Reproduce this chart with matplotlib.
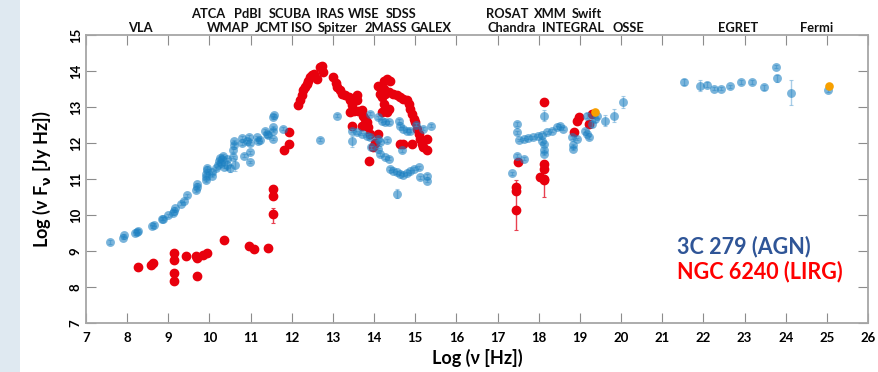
import matplotlib
matplotlib.use("Agg")
import matplotlib.pyplot as plt
from matplotlib.patches import Rectangle
import numpy as np

plt.rcParams['font.family'] = ['Lato', 'DejaVu Sans']
plt.rcParams['mathtext.default'] = 'bf'

# ---------------- data: 3C 279 (AGN), blue ----------------
agn_x = [7.58, 7.90, 7.93, 8.19, 8.23, 8.27, 8.60, 8.65, 8.84, 8.88, 9.00, 9.12, 9.14, 9.16,
         9.32, 9.37, 9.45, 9.67, 9.69, 9.69, 9.92, 9.92, 9.92, 9.94, 9.94, 10.05, 10.05,
         10.17, 10.20, 10.22, 10.25, 10.28, 10.30, 10.33, 10.35, 10.42, 10.42, 10.50,
         10.58, 10.58, 10.60, 10.60, 10.62, 10.78, 10.80, 10.90, 10.95, 10.98, 10.85, 10.98,
         10.98, 11.15, 11.19, 11.22, 11.35, 11.39, 11.42, 11.55, 11.55, 11.55, 11.57, 11.55,
         11.79, 12.69, 13.10,
         13.46, 13.58, 13.70, 13.82, 13.90, 13.47, 13.90, 14.10, 14.18, 14.27, 14.35, 14.10,
         14.15, 14.31, 13.92, 14.10, 14.15, 14.27, 14.35, 14.60, 14.63, 14.71, 14.80, 14.88,
         14.39, 14.47, 14.55, 14.63, 14.71, 14.80, 14.88, 14.96, 14.55, 14.67, 15.01, 15.18,
         15.38, 15.09, 15.12, 15.28, 15.28,
         17.35, 17.47, 17.47, 17.51, 17.63, 17.75, 17.87, 17.99, 18.08, 18.20, 18.32, 18.44,
         18.52, 18.60, 17.48, 17.63, 18.08, 18.12, 18.12, 18.12, 18.12, 18.80, 18.84, 18.84,
         18.93, 19.13, 19.17, 19.21, 19.17, 19.29, 19.37, 19.41, 19.61, 19.82, 20.04,
         21.54, 21.92, 22.10, 22.26, 22.43, 22.65, 22.92, 23.18, 23.48, 23.77, 23.80, 24.13,
         25.03]
agn_y = [9.25, 9.38, 9.44, 9.50, 9.54, 9.57, 9.70, 9.74, 9.90, 9.90, 10.00, 10.05, 10.12, 10.20,
         10.32, 10.40, 10.55, 10.70, 10.78, 10.87, 10.97, 11.05, 11.15, 11.25, 11.32, 11.10, 11.20,
         11.30, 11.40, 11.50, 11.60, 11.45, 11.55, 11.65, 11.35, 11.55, 11.40, 11.30,
         11.62, 11.80, 11.95, 12.05, 11.40, 12.00, 12.15, 12.05, 12.18, 12.00, 11.66, 11.48,
         11.75, 12.17, 12.05, 12.10, 12.35, 12.26, 12.22, 12.35, 12.12, 12.72, 12.78, 12.45,
         12.40, 12.10, 12.77,
         12.35, 12.30, 12.26, 12.21, 12.17, 12.06, 12.82, 12.72, 12.63, 12.58, 12.58, 12.12,
         12.03, 12.08, 11.89, 11.84, 11.70, 11.61, 11.57, 12.63, 12.49, 12.40, 12.35, 12.35,
         11.29, 11.24, 11.20, 11.15, 11.13, 11.17, 11.22, 11.29, 10.60, 11.80, 12.52, 12.40,
         12.49, 11.33, 11.06, 11.10, 10.96,
         11.17, 12.54, 12.30, 12.09, 12.12, 12.15, 12.17, 12.21, 12.24, 12.30, 12.35, 12.44,
         12.49, 12.40, 11.66, 11.57, 12.07, 11.98, 11.80, 11.71, 12.77, 12.17, 11.94, 11.85,
         12.12, 12.35, 12.26, 12.17, 12.77, 12.54, 12.68, 12.77, 12.63, 12.77, 13.14,
         13.70, 13.60, 13.63, 13.52, 13.52, 13.58, 13.70, 13.70, 13.55, 14.13, 13.80, 13.40,
         13.47]
agn_err = [0.06, 0.04, 0.04, 0.04, 0.04, 0.04, 0.04, 0.04, 0.04, 0.04, 0.04, 0.04, 0.04, 0.04,
           0.04, 0.04, 0.04, 0.04, 0.04, 0.04, 0.04, 0.04, 0.04, 0.04, 0.04, 0.04, 0.04,
           0.04, 0.04, 0.04, 0.04, 0.04, 0.04, 0.04, 0.04, 0.04, 0.14, 0.10,
           0.04, 0.04, 0.04, 0.04, 0.16, 0.04, 0.04, 0.04, 0.04, 0.04, 0.04, 0.04,
           0.04, 0.04, 0.04, 0.04, 0.04, 0.04, 0.04, 0.04, 0.04, 0.04, 0.04, 0.04,
           0.04, 0.04, 0.04,
           0.04, 0.04, 0.04, 0.04, 0.04, 0.15, 0.04, 0.04, 0.04, 0.04, 0.04, 0.04,
           0.04, 0.04, 0.04, 0.04, 0.04, 0.04, 0.04, 0.04, 0.04, 0.04, 0.04, 0.04,
           0.04, 0.04, 0.04, 0.04, 0.04, 0.04, 0.04, 0.04, 0.12, 0.04, 0.04, 0.04,
           0.04, 0.04, 0.04, 0.04, 0.04,
           0.04, 0.06, 0.04, 0.04, 0.04, 0.04, 0.04, 0.04, 0.04, 0.04, 0.04, 0.04,
           0.04, 0.04, 0.04, 0.04, 0.04, 0.04, 0.04, 0.04, 0.15, 0.04, 0.04, 0.04,
           0.04, 0.04, 0.04, 0.04, 0.06, 0.08, 0.08, 0.08, 0.15, 0.17, 0.16,
           0.08, 0.15, 0.06, 0.05, 0.05, 0.05, 0.05, 0.05, 0.06, 0.05, 0.10, 0.35,
           0.05]

# ---------------- data: NGC 6240 (LIRG), red ----------------
lirg_x = [8.26, 8.57, 8.63, 9.14, 9.14, 9.14, 9.14, 9.43, 9.67, 9.69, 9.69, 9.84, 9.93, 10.36,
          10.97, 11.08, 11.41, 11.54, 11.54, 11.54, 11.82, 11.93, 11.93,
          12.16, 12.20, 12.24, 12.28, 12.32, 12.36, 12.40, 12.45, 12.49, 12.53, 12.61, 12.69,
          12.73, 12.75, 13.00, 13.08, 13.11, 13.16, 13.22, 13.30, 13.38, 13.42, 13.46, 13.42,
          13.50, 13.58, 13.58, 13.62, 13.70, 13.74, 13.78, 13.82, 13.86, 13.90, 13.88, 13.46,
          13.70, 13.98, 14.02,
          14.10, 14.23, 14.31, 14.39, 14.15, 14.23, 14.27, 14.35, 14.47, 14.55, 14.63, 14.71,
          14.80, 14.84, 14.88, 14.92, 14.96, 15.00, 15.04, 15.08, 15.12, 15.16, 15.20, 15.28,
          15.28, 14.92, 14.71, 14.63, 14.10, 14.18, 14.23, 14.27, 14.31, 14.18, 14.35,
          17.45, 17.45, 17.45, 17.49, 18.13, 18.13, 18.13, 18.13, 18.13, 18.02, 18.85, 18.93,
          18.97, 19.21, 19.30]
lirg_y = [8.56, 8.63, 8.68, 8.95, 8.76, 8.39, 8.17, 8.88, 8.86, 8.82, 8.30, 8.89, 8.95, 9.32,
          9.14, 9.05, 9.10, 10.72, 10.54, 10.04, 11.80, 12.30, 11.97,
          13.05, 13.19, 13.33, 13.47, 13.56, 13.65, 13.74, 13.84, 13.91, 13.93, 13.79, 14.11,
          14.16, 13.98, 13.85, 13.67, 13.56, 13.47, 13.37, 13.33, 13.28, 13.19, 13.05, 12.86,
          12.91, 13.33, 13.19, 12.91, 12.93, 12.77, 12.68, 12.58, 12.44, 12.26, 11.52, 12.49,
          12.49, 11.90, 12.00,
          13.60, 13.74, 13.79, 13.74, 13.37, 13.51, 13.37, 13.42, 13.37, 13.33, 13.28, 13.23,
          13.19, 13.10, 12.96, 12.82, 12.68, 12.58, 12.40, 12.26, 12.12, 11.98, 11.89, 11.80,
          12.12, 11.98, 11.98, 11.98, 12.26, 13.28, 13.10, 12.96, 12.86, 12.86, 12.96,
          10.68, 10.78, 10.15, 11.47, 13.14, 11.43, 11.29, 11.01, 10.97, 11.06, 12.30, 12.63,
          12.73, 12.54, 12.82]
lirg_err_lo = [0.05] * 3 + [0.0] * 16 + [0.25, 0.10] + [0.0] * 2 + [0.0] * 39 + [0.0] * 35 + \
              [0.0, 0.0, 0.55, 0.0, 0.0, 0.0, 0.0, 0.0, 0.47, 0.0, 0.0, 0.0, 0.0, 0.0, 0.0]
lirg_err_hi = [0.05] * 3 + [0.0] * 16 + [0.15, 0.10] + [0.0] * 2 + [0.0] * 39 + [0.0] * 35 + \
              [0.0, 0.0, 0.82, 0.0, 0.0, 0.0, 0.0, 0.0, 0.05, 0.0, 0.0, 0.0, 0.0, 0.0, 0.0]

# ---------------- data: orange points ----------------
extra_x = [19.37, 25.05]
extra_y = [12.87, 13.58]

# ---------------- labels ----------------
row1_labels = ["ATCA", "PdBI", "SCUBA", "IRAS", "WISE", "SDSS", "ROSAT", "XMM", "Swift"]
row1_px = [208, 248, 290, 330, 364, 401, 507, 550, 587]
row2_labels = ["VLA", "WMAP", "JCMT", "ISO", "Spitzer", "2MASS", "GALEX",
               "Chandra", "INTEGRAL", "OSSE", "EGRET", "Fermi"]
row2_px = [140, 228, 272, 302, 338, 386, 431, 512, 573, 628, 738, 817]
xticks = list(range(7, 27))
yticks = list(range(7, 16))

W, H = 879, 372
fig = plt.figure(figsize=(W / 100, H / 100), dpi=100)
fig.patch.set_facecolor('white')
fig.patches.append(Rectangle((0, 0), 20 / W, 1, transform=fig.transFigure,
                             facecolor='#dfe9f1', edgecolor='none', zorder=-5))

L, R, T, B = 86, 868, 35.3, 323.3
ax = fig.add_axes([L / W, (H - B) / H, (R - L) / W, (B - T) / H])

red = '#e8000d'
blue = '#1a7fc1'

ax.errorbar(lirg_x, lirg_y, yerr=[lirg_err_lo, lirg_err_hi], fmt='o', ms=6.0,
            color=red, mec=red, ecolor='#e84050', elinewidth=1.0, capsize=1.5,
            capthick=0.8, zorder=3)
ax.errorbar(agn_x, agn_y, yerr=agn_err, fmt='o', ms=6.4, color=blue, mec='none',
            alpha=0.58, ecolor='#6aaad6', elinewidth=1.0, capsize=1.5, capthick=0.8,
            zorder=4)
ax.plot(extra_x, extra_y, 'o', ms=6.2, color='#f7a000', mec='none', zorder=5)

ax.set_xlim(7, 26)
ax.set_ylim(7, 15)
ax.set_xticks(xticks)
ax.set_yticks(yticks)
ax.set_xticklabels([str(v) for v in xticks], fontsize=9.5, fontweight='bold')
ax.set_yticklabels([str(v) for v in yticks], fontsize=9.5, fontweight='bold',
                   rotation=90, va='center')
ax.tick_params(direction='in', length=7, width=0.8, color='#8c8c8c',
               top=True, right=True)
ax.tick_params(axis='x', pad=6)
ax.tick_params(axis='y', pad=3)
for s in ax.spines.values():
    s.set_color('#a6a6a6')
    s.set_linewidth(1.3)

ax.set_xlabel('Log (ν [Hz])', fontsize=13, fontweight='bold')
ax.xaxis.set_label_coords(0.5, (B - 349) / (B - T))
ax.set_ylabel(r'Log (ν F$_\nu$ [Jy Hz])', fontsize=13, fontweight='bold')
ax.yaxis.set_label_coords((53 - L) / (R - L), 0.5)

for lab, px in zip(row1_labels, row1_px):
    fig.text(px / W, 1 - 14.5 / H, lab, ha='center', va='center',
             fontsize=9.3, fontweight='bold', color='#111111')
for lab, px in zip(row2_labels, row2_px):
    fig.text(px / W, 1 - 28 / H, lab, ha='center', va='center',
             fontsize=9.3, fontweight='bold', color='#111111')

fig.text(677 / W, 1 - 247 / H, '3C 279 (AGN)', ha='left', va='center',
         fontsize=15.5, fontweight='bold', color='#2f5597')
fig.text(677 / W, 1 - 272 / H, 'NGC 6240 (LIRG)', ha='left', va='center',
         fontsize=15.5, fontweight='bold', color='#ff0000')

fig.savefig('out.png', dpi=100)
